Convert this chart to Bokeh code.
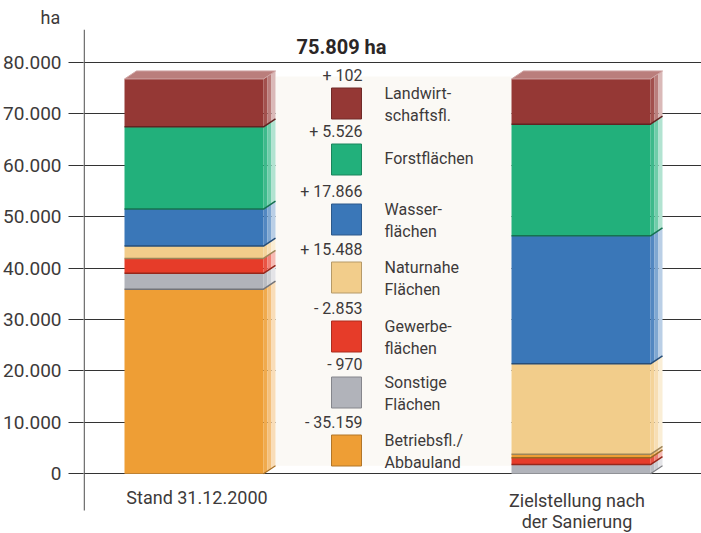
from bokeh.plotting import figure
from bokeh.models import (Range1d, LinearAxis, FixedTicker, CustomJSTickFormatter, Grid)
from bokeh.core.properties import value
from bokeh.embed import file_html
from bokeh.resources import INLINE

# ---------------- data ----------------
categories = ["Stand 31.12.2000", "Zielstellung nach\nder Sanierung"]
kinds = ["Betriebsfl./\nAbbauland", "Sonstige\nFlächen", "Gewerbe-\nflächen",
         "Naturnahe\nFlächen", "Wasser-\nflächen", "Forstflächen",
         "Landwirt-\nschaftsfl."]
stand_ha = [35900, 3100, 2900, 2400, 7200, 16000, 9300]
ziel_ha = [700, 1800, 1300, 17600, 24900, 21700, 8800]
ziel_order = [1, 2, 0, 3, 4, 5, 6]          # stacking order (bottom -> top)
stand_order = [0, 1, 2, 3, 4, 5, 6]
changes_ha = [-35159, -970, -2853, 15488, 17866, 5526, 102]
total_text = "75.809 ha"
unit_text = "ha"
y_ticks = [0, 10000, 20000, 30000, 40000, 50000, 60000, 70000, 80000]
colors = ["#EE9E35", "#B1B3BA", "#E63C29", "#F2CD8B", "#3A77B8", "#22B07B", "#953835"]

# ---------------- style / layout ----------------
FONT = "Roboto"
TXT = "#3d3a3a"
W, H = 701, 533
K = 5.1413 / 1000.0        # px per ha
Y0 = 473.3                 # image y of 0 ha
FRAME_TOP = 29
AXIS_X = 83


def ya(img_y):
    return (Y0 - img_y) / K


def mix(hexc, other, t):
    a = [int(hexc[i:i + 2], 16) for i in (1, 3, 5)]
    b = [int(other[i:i + 2], 16) for i in (1, 3, 5)]
    c = [round(a[i] * (1 - t) + b[i] * t) for i in range(3)]
    return "#%02x%02x%02x" % tuple(c)


def de_num(n):
    s = "%d" % abs(n)
    out = ""
    while len(s) > 3:
        out = "." + s[-3:] + out
        s = s[:-3]
    return s + out


p = figure(width=W, height=H, x_range=Range1d(AXIS_X, W),
           y_range=Range1d(ya(H), ya(FRAME_TOP)),
           output_backend="svg", toolbar_location=None,
           x_axis_location=None, y_axis_location=None,
           min_border_left=AXIS_X, min_border_right=0, min_border_top=FRAME_TOP,
           min_border_bottom=0, outline_line_color=None,
           background_fill_color="white", border_fill_color="white",
           title=unit_text, title_location="above")
p.title.align = "left"
p.title.offset = -43
p.title.standoff = 3
p.title.text_font = FONT
p.title.text_font_size = "18px"
p.title.text_font_style = "normal"
p.title.text_color = TXT

# remove any default grids
for r in list(p.center):
    if isinstance(r, Grid):
        r.visible = False

ticker = FixedTicker(ticks=y_ticks)
axis = LinearAxis(ticker=ticker,
                  formatter=CustomJSTickFormatter(code="return tick.toFixed(0).replace(/\\B(?=(\\d{3})+(?!\\d))/g, '.');"),
                  major_tick_out=15, major_tick_in=0, minor_tick_out=0, minor_tick_in=0,
                  minor_tick_line_color=None, axis_line_color=None,
                  major_tick_line_color="#333333", major_tick_line_width=1.2,
                  major_label_text_font=FONT, major_label_text_font_size="19px",
                  major_label_standoff=7, major_label_text_color=TXT)
p.add_layout(axis, "left")
p.add_layout(Grid(dimension=1, ticker=ticker, grid_line_color="#333333", grid_line_width=1.2))

# vertical axis line (shorter than the frame, as in the reference)
p.line(x=[AXIS_X + 0.7, AXIS_X + 0.7], y=[ya(510), ya(FRAME_TOP)], line_color="#5a5a5a", line_width=1.3)

# geometry of bars
bar_left = [124, 511]
bar_w = 139
dx = 12
dy = 8 / K

# beige panel between the bars
totals = [sum(stand_ha), sum(ziel_ha)]
p.quad(left=bar_left[0] + bar_w + dx, right=bar_left[1], bottom=dy,
       top=max(totals) + dy * 0.3, fill_color="#FBF9F5", line_color=None)

for bi, (vals, order) in enumerate([(stand_ha, stand_order), (ziel_ha, ziel_order)]):
    x0 = bar_left[bi]
    x1 = x0 + bar_w
    bottom = 0
    fl, fr, fb, ft, fc = [], [], [], [], []
    sxs, sys, scs = [], [], []
    exs, eys, ecs = [], [], []
    for k in order:
        v = vals[k]
        top = bottom + v
        c = colors[k]
        fl.append(x0); fr.append(x1); fb.append(bottom); ft.append(top); fc.append(c)
        steps = [(0, 4, 0.12), (4, 8, 0.35), (8, dx, 0.65)]
        for a, b, t in steps:
            ya0 = dy * a / dx
            yb0 = dy * b / dx
            sxs.append([x1 + a, x1 + b, x1 + b, x1 + a])
            sys.append([bottom + ya0, bottom + yb0, top + yb0, top + ya0])
            scs.append(mix(c, "#ffffff", t))
        if bottom > 0:
            exs.append([x0, x1, x1 + dx])
            eys.append([bottom, bottom, bottom + dy])
            ecs.append(mix(c, "#000000", 0.35))
        bottom = top
    p.patches(xs=sxs, ys=sys, fill_color=scs, line_color=None)
    p.quad(left=fl, right=fr, bottom=fb, top=ft, fill_color=fc, line_color=None)
    topc = colors[order[-1]]
    p.patch(x=[x0, x1, x1 + dx, x0 + dx], y=[bottom, bottom, bottom + dy, bottom + dy],
            fill_color=mix(topc, "#ffffff", 0.35), line_color=mix(topc, "#ffffff", 0.55),
            line_width=1)
    p.multi_line(xs=exs, ys=eys, line_color=ecs, line_width=1.5)
    p.line(x=[x1, x1 + dx], y=[0, dy], line_color=mix(colors[order[0]], "#000000", 0.3), line_width=1.2)

# total label
p.text(x=[341], y=[ya(46)], text=[total_text], text_font=value(FONT),
       text_font_size="20px", text_font_style="bold", text_align="center",
       text_baseline="middle", text_color="#2b2626")

# legend
sq_img = [103, 159, 219, 277, 336, 392, 450]   # top -> bottom rows
lx, ly, lc, cx, cy, ct, tx, ty, tt = [], [], [], [], [], [], [], [], []
for row, k in enumerate(reversed(range(len(kinds)))):
    yc = sq_img[row]
    lx.append(346); ly.append(ya(yc)); lc.append(colors[k])
    ch = changes_ha[k]
    cx.append(362); cy.append(ya(yc - 28))
    ct.append(("+ " if ch > 0 else "- ") + de_num(ch))
    lines = kinds[k].split("\n")
    if len(lines) == 1:
        tx.append(384); ty.append(ya(yc - 1)); tt.append(lines[0])
    else:
        tx.append(384); ty.append(ya(yc - 10)); tt.append(lines[0])
        tx.append(384); ty.append(ya(yc + 12)); tt.append(lines[1])

p.rect(x=lx, y=ly, width=30, height=31, width_units="screen", height_units="screen",
       fill_color=lc, line_color=[mix(c, "#000000", 0.25) for c in lc], line_width=1)
p.text(x=cx, y=cy, text=ct, text_font=value(FONT), text_font_size="16px",
       text_align="right", text_baseline="middle", text_color=TXT)
p.text(x=tx, y=ty, text=tt, text_font=value(FONT), text_font_size="16px",
       text_align="left", text_baseline="middle", text_color=TXT)

# category labels
cat_x = [bar_left[0] + bar_w / 2 + 3, bar_left[1] + bar_w / 2 - 4]
gx, gy, gt = [], [], []
for i, cat in enumerate(categories):
    lines = cat.split("\n")
    for j, line in enumerate(lines):
        gx.append(cat_x[i]); gy.append(ya(497 + 3 * (len(lines) - 1) + 21 * j)); gt.append(line)
p.text(x=gx, y=gy, text=gt, text_font=value(FONT), text_font_size="18px",
       text_align="center", text_baseline="middle", text_color=TXT)

open("out.html", "w").write(file_html(p, INLINE))
